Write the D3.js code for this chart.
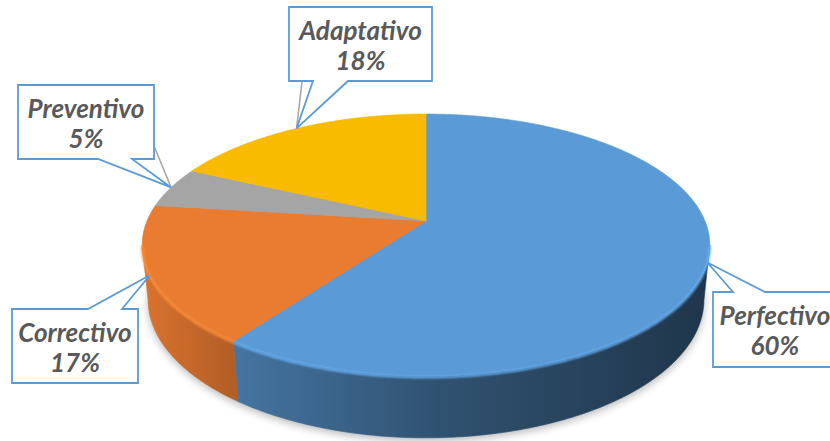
<!DOCTYPE html>
<html>
<head>
<meta charset="utf-8">
<script src="https://cdn.jsdelivr.net/npm/d3@7"></script>
<style>
  html, body { margin: 0; padding: 0; background: #fff; overflow: hidden; }
  svg { display: block; }
  .lbl { font-family: Lato, "Open Sans", sans-serif; font-weight: 700; font-style: italic; font-size: 26px; fill: #595959; }
</style>
</head>
<body>
<svg id="chart" width="830" height="441"></svg>
<script>
// ---- data ----
const categories = ["Perfectivo", "Correctivo", "Preventivo", "Adaptativo"];
const values = [60, 17, 5, 18];
const topColors = ["#5A9AD6", "#EA7C31", "#A5A5A5", "#F8BB00"];

// ---- callout layout (box geometry, pointer base on box edge) ----
const callouts = [
  { x: 713, y: 292, w: 124, h: 75, edge: "top",    b0: 20, b1: 52,  leader: null },
  { x: 12,  y: 309, w: 126, h: 74, edge: "top",    b0: 76, b1: 110, leader: null },
  { x: 18,  y: 85,  w: 136, h: 74, edge: "bottom", b0: 80, b1: 114, leader: [154, 146] },
  { x: 289, y: 7,   w: 143, h: 74, edge: "bottom", b0: 24, b1: 59,  leader: [302, 82] }
];

// ---- 3D view ----
const W = 830, H = 441;
const cx = 426, cy = 221;     // screen position of the pie centre
const focal = 1355;           // focal length in pixels per pie radius
const dist = 4.856;           // camera distance in pie radii
const tiltSin = 0.4537, tiltCos = 0.891;
const depth = 0.221;          // pie thickness in radii

const sxScale = d3.scaleLinear().domain([-1, 1]).range([cx - focal, cx + focal]);
const syScale = d3.scaleLinear().domain([-1, 1]).range([cy + focal, cy - focal]);

// angle measured clockwise from the far point of the pie, Y = height
function project(theta, Y, r = 1) {
  const X = r * Math.sin(theta), Z = r * Math.cos(theta);
  const yc = Y * tiltCos + Z * tiltSin;
  const zc = dist + Z * tiltCos - Y * tiltSin;
  return [sxScale(X / zc), syScale(yc / zc)];
}
function arcPoints(a0, a1, Y) {
  const n = Math.max(2, Math.ceil(Math.abs(a1 - a0) / 0.01));
  return d3.range(n + 1).map(i => project(a0 + (a1 - a0) * i / n, Y));
}

const pie = d3.pie().sort(null).value(d => d)(values);
const line = d3.line();
const svg = d3.select("#chart");
const defs = svg.append("defs");

defs.append("filter").attr("id", "shadowBlur").attr("x", "-20%").attr("y", "-20%").attr("width", "140%").attr("height", "140%")
  .append("feGaussianBlur").attr("stdDeviation", 4);
defs.append("filter").attr("id", "rimBlur")
  .append("feGaussianBlur").attr("stdDeviation", 0.8);

// side-wall gradients: lit from the left, falling to dark on the right
const shadeStops = [[0, 0.93], [0.17, 0.75], [0.52, 0.53], [0.89, 0.39], [1, 0.35]];
const leftX = project(-Math.acos(-tiltCos / dist), 0)[0];
const rightX = project(Math.acos(-tiltCos / dist), 0)[0];
topColors.forEach((c, i) => {
  const g = defs.append("linearGradient").attr("id", "side" + i)
    .attr("gradientUnits", "userSpaceOnUse")
    .attr("x1", leftX).attr("x2", rightX).attr("y1", 0).attr("y2", 0);
  const rgb = d3.rgb(c);
  shadeStops.forEach(([o, k]) => {
    g.append("stop").attr("offset", o)
      .attr("stop-color", d3.rgb(rgb.r * k, rgb.g * k, rgb.b * k).formatHex());
  });
});

// soft ground shadow under the pie
svg.append("path")
  .attr("d", line(arcPoints(0, 2 * Math.PI, -depth)) + "Z")
  .attr("transform", "translate(0,3)")
  .attr("fill", "#000").attr("opacity", 0.28)
  .attr("filter", "url(#shadowBlur)");

// visible outer walls (front half of the rim)
const tFrontA = Math.acos(-tiltCos / dist);
const tFrontB = 2 * Math.PI - tFrontA;
pie.forEach((s, i) => {
  const a0 = Math.max(s.startAngle, tFrontA), a1 = Math.min(s.endAngle, tFrontB);
  if (a0 >= a1) return;
  const pts = arcPoints(a0, a1, 0).concat(arcPoints(a1, a0, -depth));
  svg.append("path").attr("d", line(pts) + "Z")
    .attr("fill", `url(#side${i})`)
    .attr("stroke", `url(#side${i})`).attr("stroke-width", 0.6);
});

// top faces
pie.forEach((s, i) => {
  const pts = [project(0, 0, 0)].concat(arcPoints(s.startAngle, s.endAngle, 0));
  svg.append("path").attr("d", line(pts) + "Z")
    .attr("fill", topColors[i])
    .attr("stroke", topColors[i]).attr("stroke-width", 0.6);
});

// bevel highlight along the front rim
pie.forEach((s, i) => {
  const a0 = Math.max(s.startAngle, tFrontA), a1 = Math.min(s.endAngle, tFrontB);
  if (a0 >= a1) return;
  svg.append("path").attr("d", line(arcPoints(a0, a1, -0.004)))
    .attr("fill", "none")
    .attr("stroke", d3.rgb(topColors[i]).brighter(0.45).formatHex())
    .attr("stroke-width", 2.2)
    .attr("filter", "url(#rimBlur)");
});

// data labels with callouts
const tips = pie.map(s => project((s.startAngle + s.endAngle) / 2, 0));
const leaderG = svg.append("g");
const calloutG = svg.append("g");
callouts.forEach((b, i) => {
  const [tx, ty] = tips[i];
  if (b.leader) {
    leaderG.append("line")
      .attr("x1", b.leader[0]).attr("y1", b.leader[1])
      .attr("x2", tx).attr("y2", ty)
      .attr("stroke", "#A5A5A5").attr("stroke-width", 1.5);
  }
  const L = b.x, T = b.y, R = b.x + b.w, B = b.y + b.h;
  let d;
  if (b.edge === "top") {
    d = `M${L},${T}H${L + b.b0}L${tx},${ty}L${L + b.b1},${T}H${R}V${B}H${L}Z`;
  } else {
    d = `M${L},${T}H${R}V${B}H${L + b.b1}L${tx},${ty}L${L + b.b0},${B}H${L}Z`;
  }
  calloutG.append("path").attr("d", d)
    .attr("fill", "#fff").attr("stroke", "#5B9BD5").attr("stroke-width", 1.8)
    .attr("stroke-linejoin", "miter");
  const mx = b.x + b.w / 2;
  calloutG.append("text").attr("class", "lbl").attr("x", mx).attr("y", T + 33)
    .attr("text-anchor", "middle").text(categories[i]);
  calloutG.append("text").attr("class", "lbl").attr("x", mx).attr("y", T + 63)
    .attr("text-anchor", "middle").text(values[i] + "%");
});
</script>
</body>
</html>
